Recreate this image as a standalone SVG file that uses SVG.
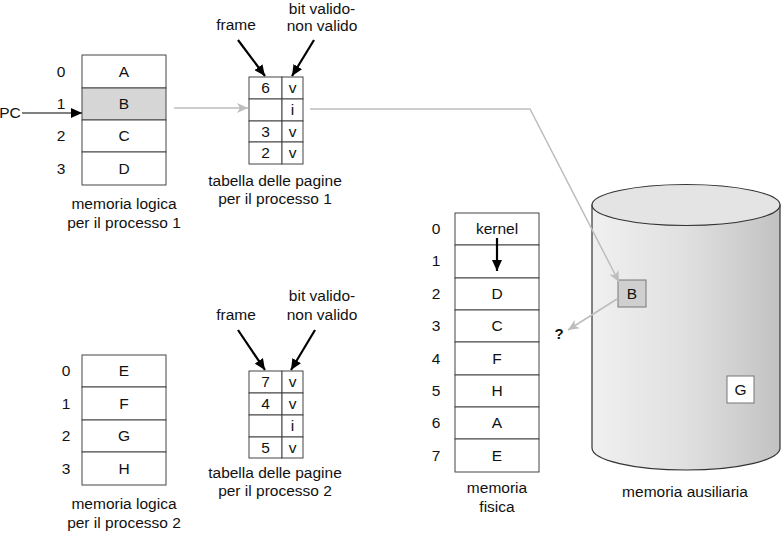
<svg xmlns="http://www.w3.org/2000/svg" width="781" height="534" viewBox="0 0 781 534">
<style>
text{font-family:"Liberation Sans",Arial,sans-serif;font-size:15.5px;fill:#111;text-anchor:middle}
.cell{fill:#fff;stroke:#444;stroke-width:1}
.sh{fill:#d6d6d6;stroke:#444;stroke-width:1}
.blk{stroke:#000;stroke-width:2.2;fill:none}
.thin{stroke:#000;stroke-width:1;fill:none}
.gray{stroke:#bdbdbd;stroke-width:1.5;fill:none}
</style>
<defs>
<marker id="ab" markerUnits="userSpaceOnUse" markerWidth="12" markerHeight="10" refX="11" refY="5" orient="auto"><path d="M0,0 L11,5 L0,10 z" fill="#000"/></marker>
<marker id="ag" markerUnits="userSpaceOnUse" markerWidth="12" markerHeight="10" refX="11" refY="5" orient="auto"><path d="M0,0 L11,5 L0,10 L3,5 z" fill="#bdbdbd"/></marker>
<linearGradient id="cyl" x1="0" y1="0" x2="1" y2="0">
<stop offset="0" stop-color="#f0f0f0"/><stop offset="0.5" stop-color="#e0e0e0"/><stop offset="1" stop-color="#c2c2c2"/>
</linearGradient>
</defs>

<g id="memoria-logica-1">
<rect class="cell" x="82" y="55" width="84" height="33"/>
<rect class="sh" x="82" y="88" width="84" height="32"/>
<rect class="cell" x="82" y="120" width="84" height="32"/>
<rect class="cell" x="82" y="152" width="84" height="33"/>
<text x="124" y="77">A</text><text x="124" y="109">B</text><text x="124" y="141">C</text><text x="124" y="174">D</text>
<text x="61" y="77">0</text><text x="61" y="109">1</text><text x="61" y="141">2</text><text x="61" y="174">3</text>
<text x="124" y="209">memoria logica</text><text x="124" y="228">per il processo 1</text>
</g>

<g id="pc">
<text x="10" y="118">PC</text>
</g>

<g id="tabella-1">
<rect class="cell" x="249" y="77" width="33" height="22"/><rect class="cell" x="282" y="77" width="21" height="22"/>
<rect class="cell" x="249" y="99" width="33" height="22"/><rect class="cell" x="282" y="99" width="21" height="22"/>
<rect class="cell" x="249" y="121" width="33" height="21"/><rect class="cell" x="282" y="121" width="21" height="21"/>
<rect class="cell" x="249" y="142" width="33" height="22"/><rect class="cell" x="282" y="142" width="21" height="22"/>
<text x="265.5" y="93">6</text><text x="292.5" y="93">v</text>
<text x="292.5" y="115">i</text>
<text x="265.5" y="137">3</text><text x="292.5" y="137">v</text>
<text x="265.5" y="158">2</text><text x="292.5" y="158">v</text>
<text x="236" y="30">frame</text>
<text x="322" y="14">bit valido-</text><text x="322" y="31">non valido</text>
<text x="275" y="186">tabella delle pagine</text><text x="275" y="204">per il processo 1</text>
</g>

<g id="memoria-logica-2">
<rect class="cell" x="82" y="355" width="84" height="32"/>
<rect class="cell" x="82" y="387" width="84" height="33"/>
<rect class="cell" x="82" y="420" width="84" height="32"/>
<rect class="cell" x="82" y="452" width="84" height="33"/>
<text x="124" y="376">E</text><text x="124" y="409">F</text><text x="124" y="441">G</text><text x="124" y="474">H</text>
<text x="66" y="376">0</text><text x="66" y="409">1</text><text x="66" y="441">2</text><text x="66" y="474">3</text>
<text x="124" y="509">memoria logica</text><text x="124" y="528">per il processo 2</text>
</g>

<g id="tabella-2">
<rect class="cell" x="249" y="371" width="33" height="22"/><rect class="cell" x="282" y="371" width="21" height="22"/>
<rect class="cell" x="249" y="393" width="33" height="22"/><rect class="cell" x="282" y="393" width="21" height="22"/>
<rect class="cell" x="249" y="415" width="33" height="22"/><rect class="cell" x="282" y="415" width="21" height="22"/>
<rect class="cell" x="249" y="437" width="33" height="21"/><rect class="cell" x="282" y="437" width="21" height="21"/>
<text x="265.5" y="387">7</text><text x="292.5" y="387">v</text>
<text x="265.5" y="409">4</text><text x="292.5" y="409">v</text>
<text x="292.5" y="431">i</text>
<text x="265.5" y="453">5</text><text x="292.5" y="453">v</text>
<text x="236" y="320">frame</text>
<text x="322" y="301">bit valido-</text><text x="322" y="320">non valido</text>
<text x="275" y="478">tabella delle pagine</text><text x="275" y="496">per il processo 2</text>
</g>

<g id="memoria-fisica">
<rect class="cell" x="455" y="213" width="84" height="32"/>
<rect class="cell" x="455" y="245" width="84" height="33"/>
<rect class="cell" x="455" y="278" width="84" height="32"/>
<rect class="cell" x="455" y="310" width="84" height="32"/>
<rect class="cell" x="455" y="342" width="84" height="33"/>
<rect class="cell" x="455" y="375" width="84" height="32"/>
<rect class="cell" x="455" y="407" width="84" height="32"/>
<rect class="cell" x="455" y="439" width="84" height="33"/>
<text x="497" y="234">kernel</text>
<text x="497" y="299">D</text><text x="497" y="331">C</text><text x="497" y="364">F</text>
<text x="497" y="396">H</text><text x="497" y="428">A</text><text x="497" y="461">E</text>
<text x="436" y="234">0</text><text x="436" y="266">1</text><text x="436" y="299">2</text><text x="436" y="331">3</text>
<text x="436" y="364">4</text><text x="436" y="396">5</text><text x="436" y="428">6</text><text x="436" y="461">7</text>
<text x="497" y="493">memoria</text><text x="497" y="512">fisica</text>
</g>

<g id="memoria-ausiliaria">
<path d="M592,205 L592,448 A94,22 0 0 0 780,448 L780,205 Z" fill="url(#cyl)" stroke="#333" stroke-width="1.2"/>
<ellipse cx="686" cy="205" rx="94" ry="20.5" fill="#e4e4e4" stroke="#333" stroke-width="1.2"/>
<text x="685" y="497">memoria ausiliaria</text>
</g>

<g id="pagina-B">
<rect x="618" y="280" width="28" height="27" fill="#cfcfcf" stroke="#777" stroke-width="1"/>
<text x="632" y="299">B</text>
</g>

<g id="pagina-G">
<rect x="727" y="376" width="27" height="27" fill="#fff" stroke="#777" stroke-width="1"/>
<text x="740.5" y="395">G</text>
</g>

<g id="connectors">
<line class="thin" x1="22" y1="113" x2="82" y2="113" marker-end="url(#ab)"/>
<line class="blk" x1="238" y1="40" x2="265" y2="76" marker-end="url(#ab)"/>
<line class="blk" x1="314" y1="40" x2="292" y2="76" marker-end="url(#ab)"/>
<line class="blk" x1="238" y1="330" x2="265" y2="370" marker-end="url(#ab)"/>
<line class="blk" x1="315" y1="330" x2="291" y2="370" marker-end="url(#ab)"/>
<line class="blk" x1="497" y1="238" x2="497" y2="271" marker-end="url(#ab)"/>
<line class="gray" x1="174" y1="108" x2="248" y2="108" marker-end="url(#ag)"/>
<polyline class="gray" points="310,109 530,109 619,282" marker-end="url(#ag)"/>
<line class="gray" x1="617" y1="299" x2="568" y2="330" marker-end="url(#ag)"/>
<text x="559" y="339" style="font-weight:bold;font-size:15px">?</text>
</g>
</svg>
